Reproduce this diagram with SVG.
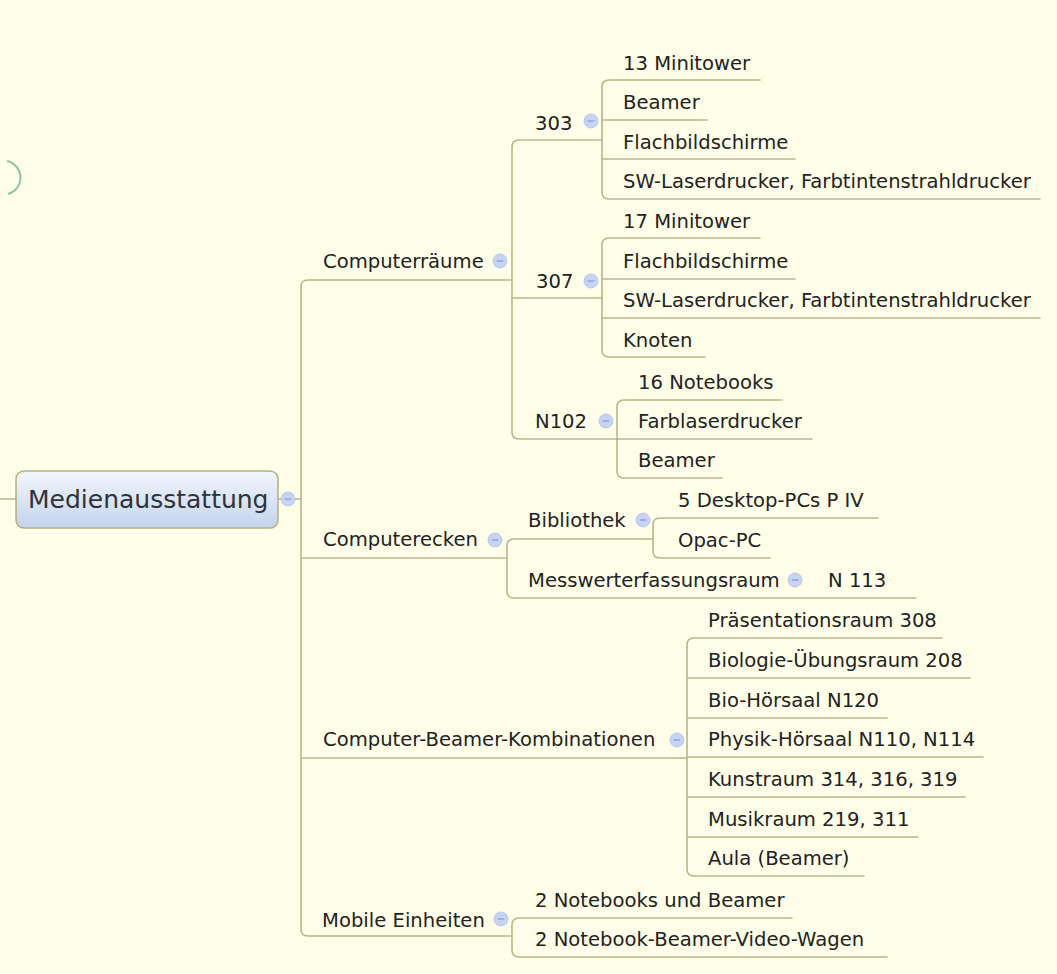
<svg xmlns="http://www.w3.org/2000/svg" width="1057" height="974" viewBox="0 0 1057 974">
<defs>
<style>
.bg{fill:#fffee8}
.ln{fill:none;stroke:#b9b58a;stroke-width:1.6;stroke-linecap:round}
.t{font-family:"DejaVu Sans","Verdana",sans-serif;font-size:19.6px;fill:#222}
.root{font-family:"DejaVu Sans","Verdana",sans-serif;font-size:25px;fill:#2e3338}
.btn{fill:#c6d3f2;stroke:#b0c1ea;stroke-width:0.8}
.mn{stroke:#8a9fd6;stroke-width:1.4}
</style>
<linearGradient id="rg" x1="0" y1="0" x2="0" y2="1">
<stop offset="0" stop-color="#f3f6fc"/>
<stop offset="1" stop-color="#c4d4ee"/>
</linearGradient>
<g id="minus"><circle class="btn" cx="0" cy="0" r="7"/><line class="mn" x1="-3.2" y1="0" x2="3.2" y2="0"/></g>
</defs>
<rect class="bg" x="0" y="0" width="1057" height="974"/>
<path d="M7 161 A17 17 0 0 1 8 194" fill="none" stroke="#8fc39b" stroke-width="2"/>

<g id="connectors">
<path class="ln" d="M0 499 H16"/>
<path class="ln" d="M278 499 H281 M295 499 H301"/>
<path class="ln" d="M512 280 H308 Q301 280 301 287 V929 Q301 936 308 936 H512"/>
<path class="ln" d="M301 558 H507"/>
<path class="ln" d="M301 758 H687"/>
<path class="ln" d="M602 140 H519 Q512 140 512 147 V432 Q512 439 519 439 H617"/>
<path class="ln" d="M512 298 H602"/>
<path class="ln" d="M760 80 H609 Q602 80 602 87 V192 Q602 199 609 199 H1040"/>
<path class="ln" d="M602 120 H707 M602 159 H795"/>
<path class="ln" d="M760 238 H609 Q602 238 602 245 V350 Q602 357 609 357 H705"/>
<path class="ln" d="M602 279 H795 M602 318 H1040"/>
<path class="ln" d="M782 400 H624 Q617 400 617 407 V471 Q617 478 624 478 H722"/>
<path class="ln" d="M617 439 H812"/>
<path class="ln" d="M653 539 H514 Q507 539 507 546 V591 Q507 598 514 598 H916"/>
<path class="ln" d="M878 518 H660 Q653 518 653 525 V551 Q653 558 660 558 H770"/>
<path class="ln" d="M942 638 H694 Q687 638 687 645 V869 Q687 876 694 876 H864"/>
<path class="ln" d="M687 678 H970 M687 718 H887 M687 757 H983 M687 797 H965 M687 837 H918"/>
<path class="ln" d="M792 918 H519 Q512 918 512 925 V950 Q512 957 519 957 H887"/>
</g>

<g id="n-root">
<rect x="16" y="471" width="262" height="57" rx="8" fill="url(#rg)" stroke="#b2b07e" stroke-width="1.5"/>
<text class="root" x="28" y="508">Medienausstattung</text>
<use href="#minus" x="288" y="499"/>
</g>

<g id="n-computerraeume"><text class="t" x="323" y="268">Computerräume</text><use href="#minus" x="500" y="261"/></g>
<g id="n-computerecken"><text class="t" x="323" y="546">Computerecken</text><use href="#minus" x="495" y="540"/></g>
<g id="n-cbk"><text class="t" x="323" y="746">Computer-Beamer-Kombinationen</text><use href="#minus" x="677" y="740"/></g>
<g id="n-mobile"><text class="t" x="322" y="927">Mobile Einheiten</text><use href="#minus" x="501" y="919"/></g>

<g id="n-303"><text class="t" x="535" y="130">303</text><use href="#minus" x="591" y="121"/></g>
<g id="n-307"><text class="t" x="536" y="288">307</text><use href="#minus" x="591" y="281"/></g>
<g id="n-n102"><text class="t" x="535" y="428">N102</text><use href="#minus" x="606" y="421"/></g>

<g id="n-303-1"><text class="t" x="623" y="70">13 Minitower</text></g>
<g id="n-303-2"><text class="t" x="623" y="109">Beamer</text></g>
<g id="n-303-3"><text class="t" x="623" y="149">Flachbildschirme</text></g>
<g id="n-303-4"><text class="t" x="623" y="188">SW-Laserdrucker, Farbtintenstrahldrucker</text></g>

<g id="n-307-1"><text class="t" x="623" y="228">17 Minitower</text></g>
<g id="n-307-2"><text class="t" x="623" y="268">Flachbildschirme</text></g>
<g id="n-307-3"><text class="t" x="623" y="307">SW-Laserdrucker, Farbtintenstrahldrucker</text></g>
<g id="n-307-4"><text class="t" x="623" y="347">Knoten</text></g>

<g id="n-n102-1"><text class="t" x="638" y="389">16 Notebooks</text></g>
<g id="n-n102-2"><text class="t" x="638" y="428">Farblaserdrucker</text></g>
<g id="n-n102-3"><text class="t" x="638" y="467">Beamer</text></g>

<g id="n-bibliothek"><text class="t" x="528" y="527">Bibliothek</text><use href="#minus" x="643" y="520"/></g>
<g id="n-bib-1"><text class="t" x="678" y="507">5 Desktop-PCs P IV</text></g>
<g id="n-bib-2"><text class="t" x="678" y="547">Opac-PC</text></g>
<g id="n-mess"><text class="t" x="528" y="587">Messwerterfassungsraum</text><use href="#minus" x="795" y="580"/></g>
<g id="n-n113"><text class="t" x="828" y="587">N 113</text></g>

<g id="n-cbk-1"><text class="t" x="708" y="627">Präsentationsraum 308</text></g>
<g id="n-cbk-2"><text class="t" x="708" y="667">Biologie-Übungsraum 208</text></g>
<g id="n-cbk-3"><text class="t" x="708" y="707">Bio-Hörsaal N120</text></g>
<g id="n-cbk-4"><text class="t" x="708" y="746">Physik-Hörsaal N110, N114</text></g>
<g id="n-cbk-5"><text class="t" x="708" y="786">Kunstraum 314, 316, 319</text></g>
<g id="n-cbk-6"><text class="t" x="708" y="826">Musikraum 219, 311</text></g>
<g id="n-cbk-7"><text class="t" x="708" y="865">Aula (Beamer)</text></g>

<g id="n-mob-1"><text class="t" x="535" y="907">2 Notebooks und Beamer</text></g>
<g id="n-mob-2"><text class="t" x="535" y="946">2 Notebook-Beamer-Video-Wagen</text></g>
</svg>
